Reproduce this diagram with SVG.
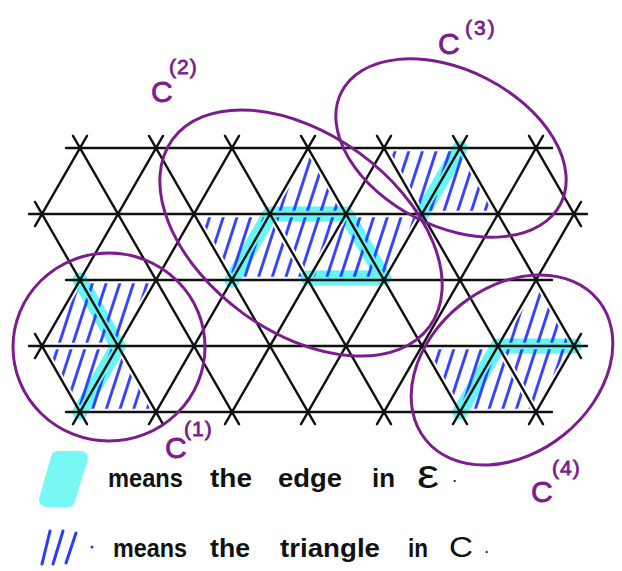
<svg xmlns="http://www.w3.org/2000/svg" width="622" height="571" viewBox="0 0 622 571">
<style>
.lat{stroke:#111;stroke-width:2.4;stroke-linecap:round;fill:none}
.edge{stroke:#3ff3ef;stroke-opacity:0.8;stroke-width:15;stroke-linecap:round;stroke-linejoin:round;fill:none}
.hatch{fill:url(#hatch);stroke:none}
.ring{fill:none;stroke:#7c1d8d;stroke-width:3}
.lab{font-family:"Liberation Sans",Arial,sans-serif;fill:#7c1d8d;stroke:#7c1d8d;stroke-width:0.8}
.leg{font-family:"Liberation Sans",Arial,sans-serif;font-weight:bold;fill:#111;font-size:26px}
</style>
<defs>
<pattern id="hatch" patternUnits="userSpaceOnUse" width="13" height="13" patternTransform="rotate(18)">
<line x1="6.5" y1="-1" x2="6.5" y2="14" stroke="#2b3aff" stroke-width="2.8"/>
</pattern>
</defs>
<rect width="622" height="571" fill="#fff"/>

<g id="edges-E">
<polyline class="edge" points="80,280 118,346 80,412"/>
<polyline class="edge" points="232,280 270,214 346,214 384,278 308,278"/>
<polyline class="edge" points="460,148 422,214"/>
<polyline class="edge" points="574,346 498,346 460,412"/>
</g>

<g id="lattice" class="lat">
<line x1="66" y1="148" x2="552" y2="148"/>
<line x1="29" y1="214" x2="587" y2="214"/>
<line x1="66" y1="280" x2="552" y2="280"/>
<line x1="29" y1="346" x2="587" y2="346"/>
<line x1="66" y1="412" x2="552" y2="412"/>
<line x1="73" y1="424.1" x2="239" y2="135.9"/>
<line x1="149" y1="424.1" x2="315" y2="135.9"/>
<line x1="225" y1="424.1" x2="391" y2="135.9"/>
<line x1="301" y1="424.1" x2="467" y2="135.9"/>
<line x1="377" y1="424.1" x2="543" y2="135.9"/>
<line x1="453" y1="424.1" x2="581" y2="201.9"/>
<line x1="529" y1="424.1" x2="581" y2="333.9"/>
<line x1="35" y1="358.1" x2="163" y2="135.9"/>
<line x1="35" y1="226.1" x2="87" y2="135.9"/>
<line x1="73" y1="135.9" x2="239" y2="424.1"/>
<line x1="149" y1="135.9" x2="315" y2="424.1"/>
<line x1="225" y1="135.9" x2="391" y2="424.1"/>
<line x1="301" y1="135.9" x2="467" y2="424.1"/>
<line x1="377" y1="135.9" x2="543" y2="424.1"/>
<line x1="453" y1="135.9" x2="581" y2="358.1"/>
<line x1="529" y1="135.9" x2="581" y2="226.1"/>
<line x1="35" y1="201.9" x2="163" y2="424.1"/>
<line x1="35" y1="333.9" x2="87" y2="424.1"/>
</g>

<g id="triangles-C">
<polygon class="hatch" points="85.7,283.3 150.3,283.3 118,339.4"/>
<polygon class="hatch" points="80,286.6 47.7,342.7 112.3,342.7"/>
<polygon class="hatch" points="47.7,349.3 112.3,349.3 80,405.4"/>
<polygon class="hatch" points="118,352.6 85.7,408.7 150.3,408.7"/>
<polygon class="hatch" points="308,154.6 275.7,210.7 340.3,210.7"/>
<polygon class="hatch" points="199.7,217.3 264.3,217.3 232,273.4"/>
<polygon class="hatch" points="270,220.6 237.7,276.7 302.3,276.7"/>
<polygon class="hatch" points="275.7,217.3 340.3,217.3 308,273.4"/>
<polygon class="hatch" points="346,220.6 313.7,276.7 378.3,276.7"/>
<polygon class="hatch" points="351.7,217.3 416.3,217.3 384,273.4"/>
<polygon class="hatch" points="389.7,151.3 454.3,151.3 422,207.4"/>
<polygon class="hatch" points="460,154.6 427.7,210.7 492.3,210.7"/>
<polygon class="hatch" points="536,286.6 503.7,342.7 568.3,342.7"/>
<polygon class="hatch" points="503.7,349.3 568.3,349.3 536,405.4"/>
<polygon class="hatch" points="498,352.6 465.7,408.7 530.3,408.7"/>
<polygon class="hatch" points="427.7,349.3 492.3,349.3 460,405.4"/>
</g>

<g id="C1">
<ellipse class="ring" cx="109" cy="347" rx="96" ry="94"/>
<text class="lab" x="165" y="458" font-size="30">C<tspan x="184" y="436" font-size="21" letter-spacing="1">(1)</tspan></text>
</g>
<g id="C2">
<ellipse class="ring" cx="301" cy="233" rx="159" ry="99" transform="rotate(36 301 233)"/>
<text class="lab" x="151" y="102" font-size="30">C<tspan x="169" y="74" font-size="21" letter-spacing="1">(2)</tspan></text>
</g>
<g id="C3">
<ellipse class="ring" cx="451" cy="148" rx="123" ry="78" transform="rotate(27 451 148)"/>
<text class="lab" x="438" y="54" font-size="30">C<tspan x="465" y="35" font-size="21" letter-spacing="2">(3)</tspan></text>
</g>
<g id="C4">
<ellipse class="ring" cx="512" cy="370" rx="111" ry="83" transform="rotate(-39 512 370)"/>
<text class="lab" x="531" y="502" font-size="30">C<tspan x="552" y="475" font-size="21" letter-spacing="1">(4)</tspan></text>
</g>

<g id="legend">
<g opacity="0.6" fill="#1ff5f0" stroke="#1ff5f0" stroke-linecap="round" stroke-linejoin="round">
<polygon points="58,458 81,458 68,500 46,500" stroke-width="14"/>
<line x1="67" y1="458" x2="60" y2="500" stroke-width="14" fill="none"/>
<circle cx="61" cy="475" r="9" stroke="none"/>
</g>
<text class="leg"><tspan x="108" y="487" textLength="75" lengthAdjust="spacingAndGlyphs">means</tspan><tspan x="210" y="487" textLength="42" lengthAdjust="spacingAndGlyphs">the</tspan><tspan x="278" y="487" textLength="64" lengthAdjust="spacingAndGlyphs">edge</tspan><tspan x="372" y="487" textLength="23" lengthAdjust="spacingAndGlyphs">in</tspan><tspan x="417" y="488" font-size="40" font-weight="normal" textLength="22" lengthAdjust="spacingAndGlyphs">ε</tspan><tspan x="453" y="482" font-size="12">.</tspan></text>
<g stroke="#2b3aff" stroke-width="3" stroke-linecap="round">
<line x1="50" y1="531" x2="42" y2="564"/>
<line x1="63" y1="531" x2="53" y2="564"/>
<line x1="76" y1="533" x2="66" y2="563"/>
</g>
<circle cx="92" cy="547" r="1.5" fill="#2b3aff"/>
<text class="leg"><tspan x="113" y="557" textLength="74" lengthAdjust="spacingAndGlyphs">means</tspan><tspan x="210" y="557" textLength="40" lengthAdjust="spacingAndGlyphs">the</tspan><tspan x="280" y="557" textLength="100" lengthAdjust="spacingAndGlyphs">triangle</tspan><tspan x="408" y="557" textLength="20" lengthAdjust="spacingAndGlyphs">in</tspan><tspan x="449" y="557" font-size="30" font-weight="normal" textLength="24" lengthAdjust="spacingAndGlyphs">C</tspan><tspan x="485" y="553" font-size="12">.</tspan></text>
</g>
</svg>
